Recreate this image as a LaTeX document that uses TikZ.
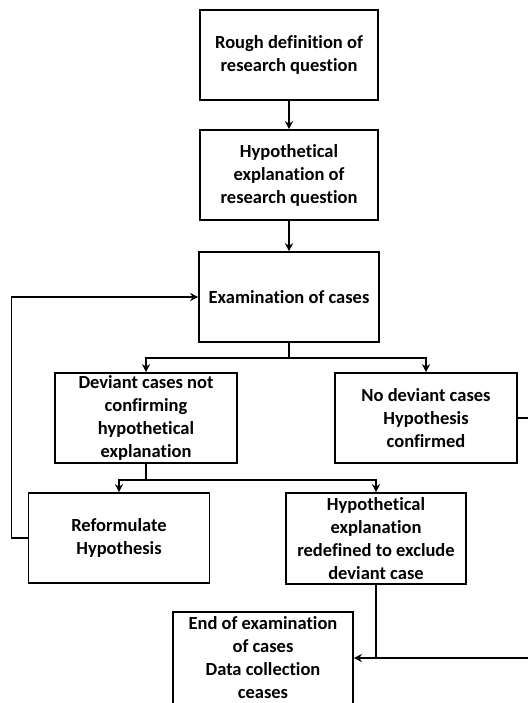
\documentclass[tikz,border=0pt]{standalone}
\usepackage{fontspec}
\setmainfont{Carlito}[Ligatures={NoCommon}]
\usetikzlibrary{arrows.meta,calc}
\tikzset{
  box/.style={draw, line width=1.6pt, rectangle, align=center, inner sep=1pt,
    font=\fontsize{18.5}{23}\selectfont\bfseries},
  conn/.style={line width=1.4pt},
  arr/.style={conn, -{Stealth[length=8pt,width=8pt,inset=2.5pt]}}
}
\begin{document}
\begin{tikzpicture}[x=1pt,y=-1pt]
\useasboundingbox[fill=white] (0,0) rectangle (527,703);
\node[box, minimum width=178, minimum height=90] (b1) at (289,55) {Rough definition of\\research question};
\node[box, minimum width=178, minimum height=90] (b2) at (289,175) {Hypothetical\\explanation of\\research question};
\node[box, minimum width=180, minimum height=90] (b3) at (289,297) {Examination of cases};
\node[box, minimum width=182, minimum height=90] (dev) at (146,418) {Deviant cases not\\confirming\\hypothetical\\explanation};
\node[box, minimum width=182, minimum height=90] (nodev) at (426,418) {No deviant cases\\Hypothesis\\confirmed};
\node[box, minimum width=181, minimum height=90] (ref) at (119,538) {Reformulate\\Hypothesis};
\node[box, minimum width=180, minimum height=91] (red) at (376,538.5) {Hypothetical\\explanation\\redefined to exclude\\deviant case};
\node[box, minimum width=180, minimum height=92, text depth=0pt] (end) at (263,658) {End of examination\\of cases\\Data collection\\ceases};
\coordinate (rc) at (533,658);

\draw[arr] (b1.south) -- (b2.north);
\draw[arr] (b2.south) -- (b3.north);
\draw[arr] (b3.south) -- ++(0,15) -| (dev.north);
\draw[arr] (b3.south) -- ++(0,15) -| (nodev.north);
\draw[arr] (dev.south) -- ++(0,16) -| (ref.north);
\draw[arr] (dev.south) -- ++(0,16) -| (red.north);
\draw[arr] (ref.west) -- ++(-16,0) |- (b3.west);
\draw[arr] (nodev.east) -| (rc) -- (end.east);
\draw[conn] (red.south) -- (red.south |- end.east);
\end{tikzpicture}
\end{document}
